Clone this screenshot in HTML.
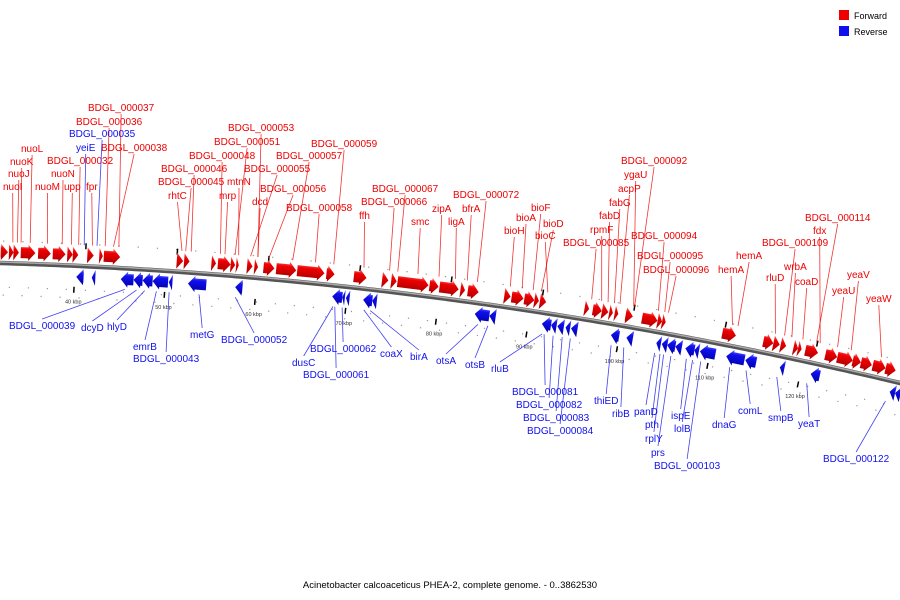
<!DOCTYPE html>
<html><head><meta charset="utf-8"><style>
html,body{margin:0;padding:0;background:#fff;}
svg{display:block;font-family:"Liberation Sans",sans-serif;}
</style></head><body>
<svg id="chart" width="900" height="600" viewBox="0 0 900 600">
<defs>
<linearGradient id="gf" x1="0" y1="0" x2="0" y2="1"><stop offset="0" stop-color="#ff6a6a"/><stop offset="0.3" stop-color="#ee0000"/><stop offset="1" stop-color="#a80000"/></linearGradient>
<linearGradient id="gr" x1="0" y1="0" x2="0" y2="1"><stop offset="0" stop-color="#6a7aff"/><stop offset="0.3" stop-color="#1010ee"/><stop offset="1" stop-color="#0000a8"/></linearGradient>
</defs>
<g>
<rect x="839" y="10" width="10" height="10" fill="#ee0000"/>
<text x="854" y="19" font-size="9" fill="#000">Forward</text>
<rect x="839" y="26" width="10" height="10" fill="#1010ee"/>
<text x="854" y="35" font-size="9" fill="#000">Reverse</text>
</g>
<text x="450" y="588" font-size="9.5" text-anchor="middle" fill="#000">Acinetobacter calcoaceticus PHEA-2, complete genome. - 0..3862530</text>
</svg>
<script>
// gene coordinates in kbp
const fwdStart=[31.8,32.7,33.2,34.0,35.9,37.5,39.1,39.7,41.3,42.6,43.1,51.1,51.9,54.9,55.6,57.0,57.6,58.8,59.6,60.6,62.0,64.3,67.5,70.5,73.6,74.6,75.3,78.8,79.9,82.2,83.0,87.0,87.8,89.2,90.3,90.9,95.8,96.7,97.7,98.5,99.1,100.3,102.1,103.8,104.3,110.9,115.4,116.5,117.3,118.7,119.2,120.0,122.2,123.5,125.2,126.1,127.4,128.8];
const fwdEnd=[32.6,33.2,33.8,35.6,37.3,38.9,39.7,40.3,42.0,43.0,44.9,51.8,52.5,55.4,57.0,57.5,57.9,59.4,60.0,61.8,64.2,67.3,68.4,71.9,74.3,75.2,78.7,79.8,82.0,82.7,84.2,87.7,89.1,90.3,90.8,91.6,96.3,97.7,98.4,98.9,99.5,101.1,103.8,104.3,104.7,112.4,116.5,117.2,117.9,119.2,119.6,121.4,123.5,125.2,126.1,127.3,128.8,129.9];
const revStart=[40.2,41.9,45.1,46.5,47.5,48.6,50.4,52.5,57.7,68.4,69.5,69.9,71.8,72.8,84.1,85.7,91.5,92.5,93.2,94.1,94.7,99.1,100.8,104.1,104.7,105.3,106.2,107.3,108.3,108.9,111.8,113.9,117.7,121.1,129.8,130.4];
const revEnd=[41.0,42.3,46.5,47.5,48.6,50.3,50.8,54.5,58.5,69.5,69.8,70.3,72.8,73.3,85.7,86.4,92.5,93.1,93.9,94.6,95.4,100.0,101.5,104.6,105.3,106.2,106.9,108.3,108.8,110.6,113.8,115.1,118.2,122.1,130.4,131.0];
const tickKb=[40,50,60,70,80,90,100,110,120];
const tickLabels=["40 kbp","50 kbp","60 kbp","70 kbp","80 kbp","90 kbp","100 kbp","110 kbp","120 kbp"];
const labelNames=["nuoI","nuoJ","nuoK","nuoL","nuoM","nuoN","upp","BDGL_000032","fpr","BDGL_000038","BDGL_000036","BDGL_000037","rhtC","BDGL_000045","BDGL_000046","mrp","mtnN","BDGL_000048","BDGL_000051","BDGL_000053","dcd","BDGL_000055","BDGL_000056","BDGL_000057","BDGL_000058","BDGL_000059","ffh","BDGL_000066","BDGL_000067","smc","zipA","ligA","bfrA","BDGL_000072","bioH","bioA","bioF","bioD","bioC","BDGL_000085","rpmF","fabD","fabG","acpP","ygaU","BDGL_000092","BDGL_000094","BDGL_000095","BDGL_000096","hemA","hemA","rluD","BDGL_000109","wrbA","coaD","fdx","BDGL_000114","yeaU","yeaV","yeaW",
"BDGL_000035","yeiE","BDGL_000039","dcyD","hlyD","emrB","BDGL_000043","metG","BDGL_000052","dusC","BDGL_000062","BDGL_000061","coaX","birA","otsA","otsB","rluB","BDGL_000081","BDGL_000082","BDGL_000083","BDGL_000084","thiED","ribB","panD","pth","rplY","prs","BDGL_000103","ispE","lolB","dnaG","comL","smpB","yeaT","BDGL_000122"];
const labelAnchorKb=[33.1,33.6,34.0,35.0,36.9,38.5,39.5,40.3,41.8,44.1,43.2,44.7,51.6,52.0,52.6,56.3,57.8,55.8,57.4,59.9,59.9,59.1,61.1,63.7,66.2,68.2,71.5,74.3,75.2,77.4,79.7,81.5,82.8,83.9,87.5,88.8,90.0,90.9,91.6,96.4,97.5,98.2,98.9,99.5,101.0,101.1,103.7,104.4,104.8,112.4,111.8,116.5,117.5,118.3,119.5,121.4,121.0,123.3,124.8,128.1,
42.3,40.9,45.6,46.9,47.8,49.1,50.5,53.8,57.8,68.6,69.6,68.8,72.0,72.7,84.6,85.7,91.7,91.9,92.9,93.9,94.8,99.3,100.7,104.1,104.7,105.1,105.9,109.2,107.6,108.3,112.4,114.2,117.6,120.9,129.6];
const labelLX=[3,8,10,21,35,51,64,47,86,101,76,88,168,158,161,219,227,189,214,228,252,244,260,276,286,311,359,361,372,411,432,448,462,453,504,516,531,543,535,563,590,599,609,618,624,621,631,637,643,736,718,766,762,784,795,813,805,832,847,866,
69,76,9,81,107,133,133,190,221,292,310,303,380,410,436,465,491,512,516,523,527,594,612,634,645,645,651,654,671,674,712,738,768,798,823];
const labelLY=[190,177,165,152,190,177,190,164,190,151,125,111,199,185,172,199,185,159,145,131,205,172,192,159,211,147,219,205,192,225,212,225,212,198,234,221,211,227,239,246,233,219,206,192,178,164,239,259,273,259,273,281,246,270,285,234,221,294,278,302,
137,151,329,331,330,350,362,338,343,366,352,378,357,360,364,368,372,395,408,421,434,404,417,415,428,442,456,469,419,432,428,414,421,427,462];

const NS="http://www.w3.org/2000/svg";
const svg=document.getElementById('chart');
function xOf(kb){return 75+(kb-40)*9.1;}
function yOf(x){return 263+0.0283*x+0.0001167*x*x;}
function slope(x){return 0.0283+0.0002334*x;}
function mk(t,a,p){const e=document.createElementNS(NS,t);for(const k in a)e.setAttribute(k,a[k]);(p||svg).appendChild(e);return e;}
function P(x,off){const s=slope(x),n=Math.sqrt(1+s*s);return [x - s*off/n, yOf(x)+off/n];}

const gDots=mk('g',{});


for(let kb=30;kb<=132;kb+=2.1){
  const x=xOf(kb);
  [-22,24,32].forEach((o,i)=>{const xx=x+(i*7)%13;const p=P(xx,o);mk('circle',{cx:p[0].toFixed(1),cy:p[1].toFixed(1),r:0.7,fill:'#999'},gDots);});
}
const bb=mk('g',{});


let d='';for(let x=-5;x<=905;x+=5){d+=(x===-5?'M':'L')+x+','+yOf(x).toFixed(2);}
mk('path',{d:d,stroke:'#555',"stroke-width":4.5,fill:'none'},bb);
mk('path',{d:d,stroke:'#aaa',"stroke-width":1.5,fill:'none',transform:'translate(0,-1)'},bb);

tickKb.forEach((kb,i)=>{
  const x=xOf(kb);
  const a=P(x,21),b=P(x,27);
  const t=mk('line',{x1:a[0],y1:a[1],x2:b[0],y2:b[1],stroke:'#000',"stroke-width":1.5});
  
  
  const xa=xOf(kb+1.1),c=P(xa,-23),e=P(xa,-17);
  const t2=mk('line',{x1:c[0],y1:c[1],x2:e[0],y2:e[1],stroke:'#000',"stroke-width":1.5});
  
  
  const l=P(x,38);
  const tx=mk('text',{x:l[0],y:l[1],"font-size":5.5,"text-anchor":"middle",fill:'#333'});
  tx.textContent=tickLabels[i];
  
  
});

function gene(s,e,dir){
  const x0=xOf(s),x1=xOf(e);
  const ang=Math.atan(slope((x0+x1)/2));
  const L=(x1-x0)/Math.cos(ang);
  const head=Math.min(7,L);
  const o1=dir>0?-19:3,o2=dir>0?-3:19;
  const mid=(o1+o2)/2;
  let pts;
  if(dir>0) pts=[[0,o1+2.5],[L-head,o1+2.5],[L-head,o1],[L,mid],[L-head,o2],[L-head,o2-2.5],[0,o2-2.5]];
  else pts=[[L,o1+2.5],[head,o1+2.5],[head,o1],[0,mid],[head,o2],[head,o2-2.5],[L,o2-2.5]];
  return mk('polygon',{points:pts.map(q=>q[0].toFixed(1)+','+q[1].toFixed(1)).join(' '),fill:dir>0?'url(#gf)':'url(#gr)',transform:'translate('+x0.toFixed(1)+','+yOf(x0).toFixed(1)+') rotate('+(ang*180/Math.PI).toFixed(2)+')'});
}
for(let i=0;i<fwdStart.length;i++){
  const g=gene(fwdStart[i],fwdEnd[i],1);
  
  
}
for(let i=0;i<revStart.length;i++){
  const g=gene(revStart[i],revEnd[i],-1);
  
  
}
for(let i=0;i<labelNames.length;i++){
  const col=(i<60)?'#ee0000':'#1010ee';
  const t=mk('text',{x:labelLX[i],y:labelLY[i],"font-size":10,fill:col});
  t.textContent=labelNames[i];
  
  
  const w=t.getComputedTextLength?t.getComputedTextLength():labelNames[i].length*6;
  const gx=xOf(labelAnchorKb[i]);
  const above=labelLY[i]<yOf(gx);
  const gp=above?P(gx,-21):P(gx,21);
  const ex=labelLX[i]+w/2, ey=above?labelLY[i]+3:labelLY[i]-10;
  const ln=mk('line',{x1:gp[0].toFixed(1),y1:gp[1].toFixed(1),x2:ex.toFixed(1),y2:ey,stroke:col,"stroke-width":0.8,"stroke-opacity":0.8});
  
  
}
</script>
</body></html>
